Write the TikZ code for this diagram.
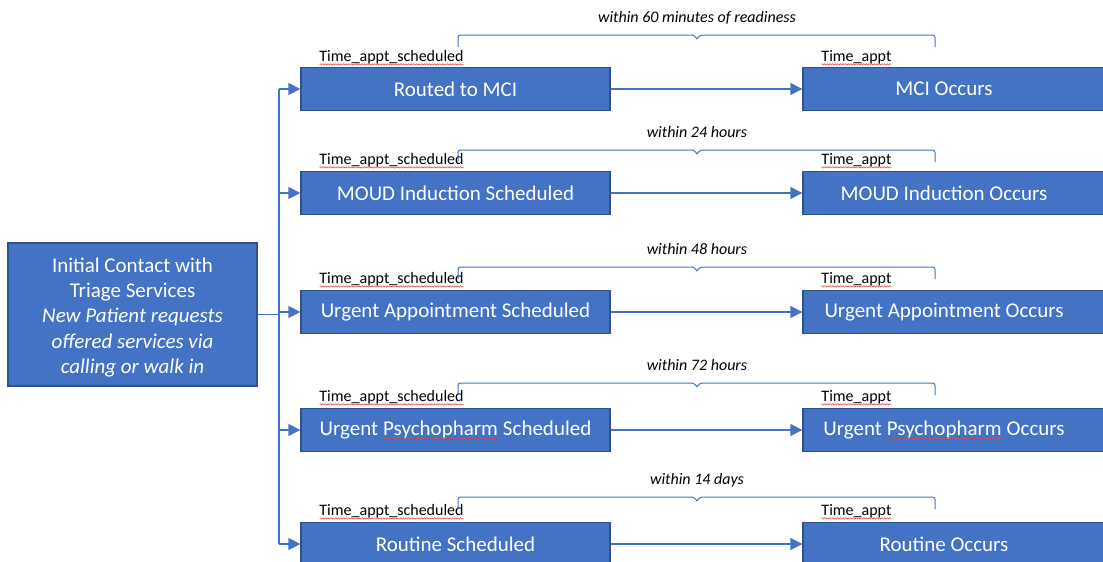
\documentclass[tikz,border=0pt]{standalone}
\usepackage{fontspec}
\setmainfont{Carlito}
\usetikzlibrary{arrows.meta,decorations.pathmorphing}
\definecolor{boxblue}{HTML}{4472C4}
\definecolor{boxedge}{HTML}{2F528F}
\definecolor{lineblue}{HTML}{4472C4}
\definecolor{squigred}{HTML}{E04040}
\newcommand{\boxfs}{\fontsize{21}{25.3}\selectfont}
\newcommand{\lblfs}{\fontsize{16}{19}\selectfont}
\newcommand{\sqg}[1]{\tikz[baseline=(w.base)]{\node[inner sep=0pt,outer sep=0pt,minimum width=0pt,minimum height=0pt,draw=none,fill=none,anchor=center](w){#1};\draw[squigred,line width=0.5pt,decorate,decoration={snake,amplitude=0.7pt,segment length=2.6pt}] ([yshift=-2.6pt]w.base west) -- ([yshift=-2.6pt]w.base east);}}
\begin{document}
\begin{tikzpicture}[x=1pt,y=-1pt,
  bx/.style={draw=boxedge,fill=boxblue,line width=1.3pt,text=white,font=\boxfs,inner sep=0pt},
  mid/.style={bx,minimum width=309pt,minimum height=43pt},
  rgt/.style={bx,minimum width=310pt,minimum height=43pt},
  conn/.style={draw=lineblue,line width=1.4pt},
  arr/.style={conn,-{Triangle[length=12pt,width=12pt]}},
  brc/.style={draw=lineblue,line width=1pt,rounded corners=2.5pt},
  tlabel/.style={font=\lblfs,text=black,inner sep=0pt,anchor=west},
  wlabel/.style={font=\lblfs\itshape,text=black,inner sep=0pt}
]
\useasboundingbox (0,0) rectangle (1103,562);
\clip (0,0) rectangle (1103,562);

% initial box
\node[bx,minimum width=249pt,minimum height=143pt] (init) at (132.5,314.5) {};
\node[text=white,font=\boxfs,align=center,inner sep=0pt] (inittxt) at (132.5,317.5)
  {Initial Contact with\\Triage Services\\\itshape New Patient requests\\\itshape offered services via\\\itshape calling or walk in};

% middle boxes
\node[mid] (m1) at (455.5,89) {Routed to MCI};
\node[mid] (m2) at (455.5,193) {MOUD Induction Scheduled};
\node[mid] (m3) at (455.5,312) {Urgent Appointment Scheduled};
\node[mid] (m4) at (455.5,430) {Urgent \sqg{Psychopharm} Scheduled};
\node[mid] (m5) at (455.5,544) {Routine Scheduled};

% right boxes
\node[rgt] (r1) at (958,89) {MCI Occurs\hspace*{28pt}};
\node[rgt] (r2) at (958,193) {MOUD Induction Occurs\hspace*{28pt}};
\node[rgt] (r3) at (958,312) {Urgent Appointment Occurs\hspace*{28pt}};
\node[rgt] (r4) at (958,430) {Urgent \sqg{Psychopharm} Occurs\hspace*{28pt}};
\node[rgt] (r5) at (958,544) {Routine Occurs\hspace*{28pt}};

% trunk
\coordinate (t1) at (279,89);
\coordinate (t2) at (279,193);
\coordinate (t3) at (279,312);
\coordinate (t4) at (279,430);
\coordinate (t5) at (279,544);
\draw[conn] (t1) -- (t5);
\draw[conn] (init.east) -- (t3 |- init.east);
\foreach \i in {1,...,5}{
  \draw[arr] (t\i) -- (m\i.west);
  \draw[arr] (m\i.east) -- (r\i.west);
}

% time labels, braces and interval labels
\foreach \i/\ty/\by/\wy/\txt in {
  1/58/35/18/within 60 minutes of readiness,
  2/161/150/132/within 24 hours,
  3/280/267/249/within 48 hours,
  4/398/383/365/within 72 hours,
  5/512/497/480/within 14 days}{
  \node[tlabel] (ts\i) at (319,\ty) {\sqg{Time\_appt\_scheduled}};
  \node[tlabel] (ta\i) at (821,\ty) {\sqg{Time\_appt}};
  \coordinate (bl\i) at (458,\by+12);
  \coordinate (br\i) at (935,\by+12);
  \coordinate (bc\i) at (697,\by);
  \draw[brc] (bl\i) -- (bl\i |- bc\i) -- ([xshift=-3pt]bc\i) -- ([yshift=-4pt]bc\i);
  \draw[brc] ([yshift=-4pt]bc\i) -- ([xshift=3pt]bc\i) -- (br\i |- bc\i) -- (br\i);
  \node[wlabel] (w\i) at (697,\wy) {\txt};
}
\end{tikzpicture}
\end{document}
